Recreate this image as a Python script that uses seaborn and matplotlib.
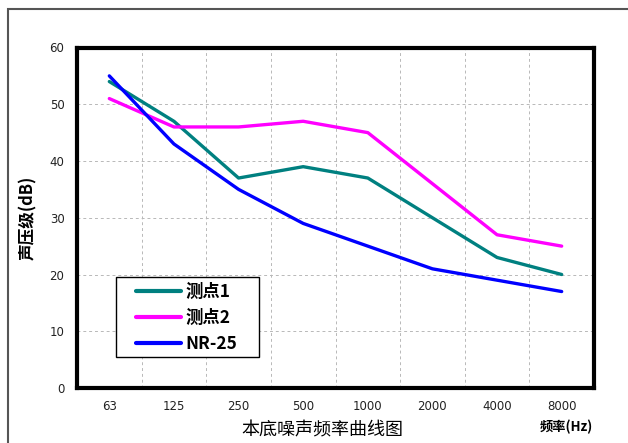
import pandas as pd
import matplotlib
matplotlib.use('Agg')
import matplotlib.pyplot as plt
from matplotlib.patches import Rectangle
from matplotlib.lines import Line2D
import seaborn as sns

# datos
frecuencias = ['63', '125', '250', '500', '1000', '2000', '4000', '8000']
punto1 = [54, 47, 37, 39, 37, 30, 23, 20]
punto2 = [51, 46, 46, 47, 45, 36, 27, 25]
nr25 = [55, 43, 35, 29, 25, 21, 19, 17]
series = ['测点1', '测点2', 'NR-25']
colores = ['#008080', '#FF00FF', '#0000FF']

filas = []
for nombre, valores in zip(series, [punto1, punto2, nr25]):
    for i, v in enumerate(valores):
        filas.append({'pos': i, 'valor': v, 'serie': nombre})
df = pd.DataFrame(filas)

sns.set_style('white')
plt.rcParams['font.family'] = ['DejaVu Sans', 'Noto Sans CJK SC']
plt.rcParams['text.color'] = 'black'
cjk = ['Noto Sans CJK SC', 'DejaVu Sans']

fig = plt.figure(figsize=(6.28, 4.43), dpi=100)
ax = fig.add_axes([77 / 628, 1 - 388 / 443, (594 - 77) / 628, (388 - 47.5) / 443])

sns.lineplot(data=df, x='pos', y='valor', hue='serie', palette=colores,
             hue_order=series, linewidth=2.4, ax=ax, legend=False)

ax.set_xlim(-0.5, 7.5)
ax.set_ylim(0, 60)
ax.set_yticks(range(0, 61, 10))
ax.set_xticks(range(len(frecuencias)))
ax.set_xticklabels(frecuencias)
ax.set_xticks([i + 0.5 for i in range(len(frecuencias) - 1)], minor=True)
ax.tick_params(axis='both', which='both', length=0, labelsize=8.5, colors='#222222')
ax.tick_params(axis='x', pad=9)
ax.tick_params(axis='y', pad=9)
ax.grid(False)
ax.grid(True, axis='y', which='major', color='#b8b8b8', linestyle=(0, (3, 3)), linewidth=0.7)
ax.grid(True, axis='x', which='minor', color='#b8b8b8', linestyle=(0, (3, 3)), linewidth=0.7)
for s in ax.spines.values():
    s.set_color('black')
    s.set_linewidth(3)

ax.set_xlabel('')
ax.set_ylabel('声压级(dB)', family=cjk, fontsize=12, fontweight='bold', labelpad=9, color='black')
fig.text(322 / 628, 1 - 430 / 443, '本底噪声频率曲线图', family=cjk, fontsize=13,
         ha='center', va='center', color='black')
fig.text(566 / 628, 1 - 427 / 443, '频率(Hz)', family=cjk, fontsize=9.5,
         fontweight='bold', ha='center', va='center', color='black')

# caja de la leyenda dibujada aparte
ax.add_patch(Rectangle((39 / 517, 31 / 340.5), 143 / 517, 80 / 340.5,
                       transform=ax.transAxes, fill=True, facecolor='white',
                       edgecolor='black', linewidth=1, zorder=4))
handles = [Line2D([], [], color=c, linewidth=3) for c in colores]
leg = ax.legend(handles, series, loc='upper left', bbox_to_anchor=(59 / 517, 105 / 340.5),
                frameon=False, borderpad=0, borderaxespad=0,
                handlelength=2.6, handletextpad=0.25, labelspacing=0.45,
                labelcolor='black',
                prop={'family': cjk, 'weight': 'bold', 'size': 12.5})
leg.set_zorder(5)

fig.patches.append(Rectangle((8 / 628, -0.1), 1.0, 1 - 8.5 / 443 + 0.1,
                             transform=fig.transFigure, fill=False,
                             edgecolor='#555555', linewidth=1.5))

fig.savefig('out.png', dpi=100)
